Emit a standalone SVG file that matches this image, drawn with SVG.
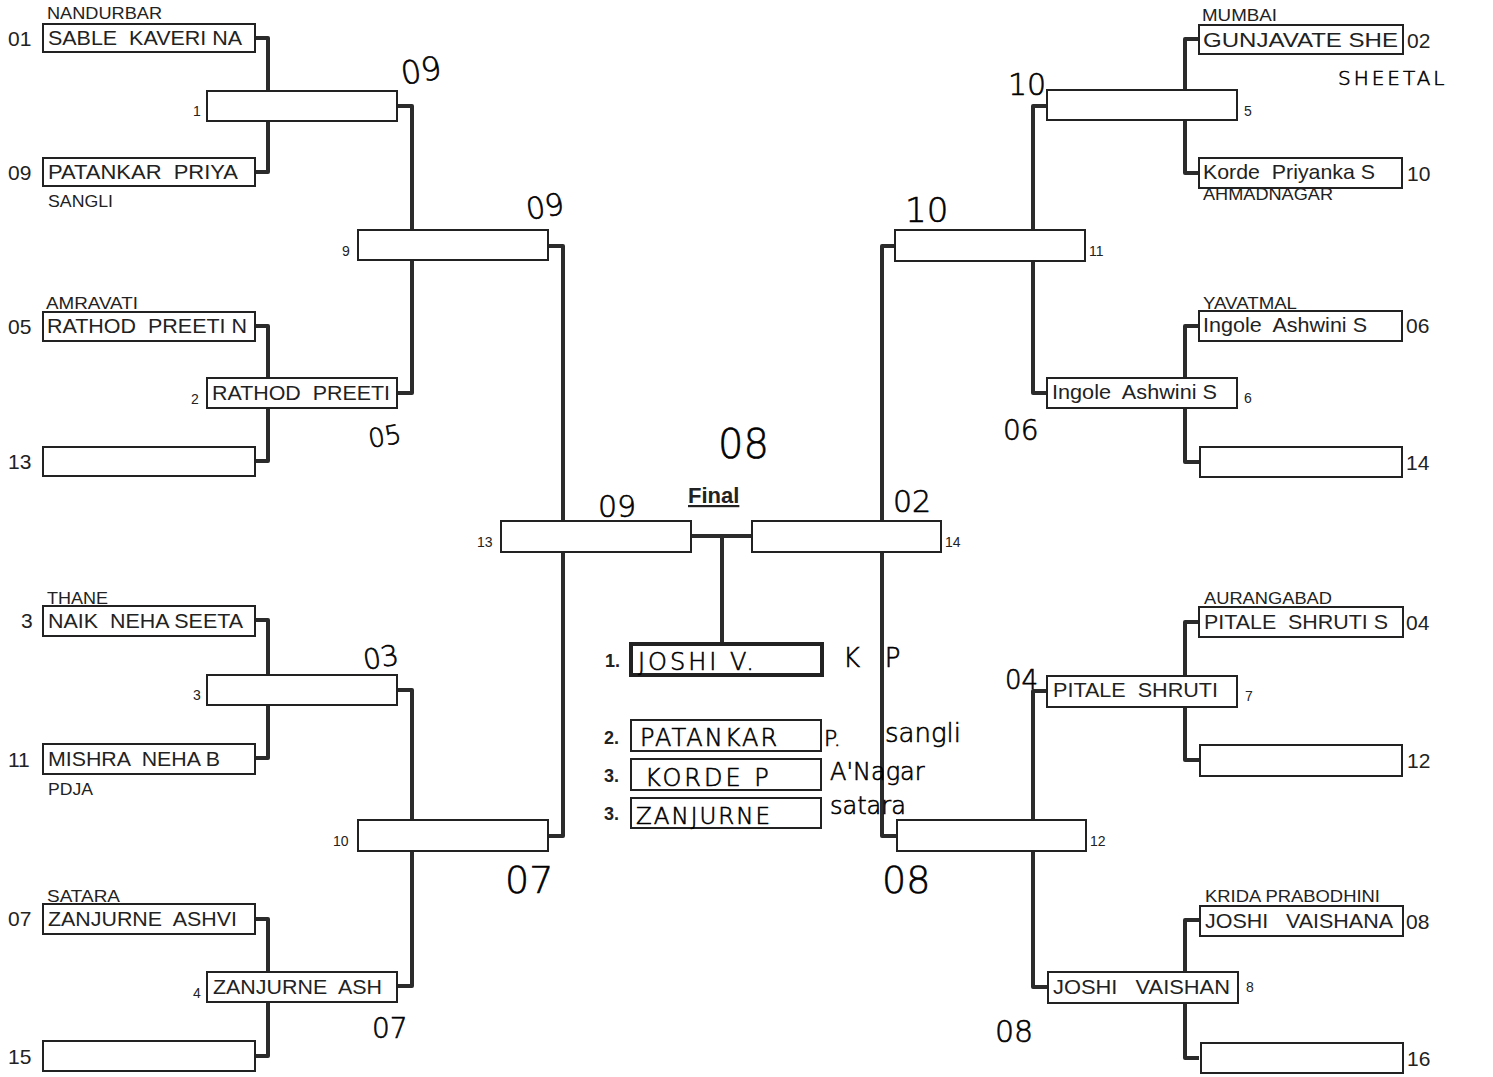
<svg xmlns="http://www.w3.org/2000/svg" width="1493" height="1077" viewBox="0 0 1493 1077">
<style>
.bg{fill:#fff}
.box{fill:#fff;stroke:#222;stroke-width:2}
.win{fill:#fff;stroke:#222;stroke-width:4}
.con{fill:none;stroke:#2b2b2b;stroke-width:4;stroke-linejoin:round}
.nm{font-family:"Liberation Sans",Arial,sans-serif;font-size:21px;fill:#222;white-space:pre}
.rg{font-family:"Liberation Sans",Arial,sans-serif;font-size:17px;fill:#222}
.sd{font-family:"Liberation Sans",Arial,sans-serif;font-size:21px;fill:#222}
.mn{font-family:"Liberation Sans",Arial,sans-serif;font-size:14px;fill:#222}
.fin{font-family:"Liberation Sans",Arial,sans-serif;font-size:22px;font-weight:bold;fill:#222;text-decoration:underline}
.pl{font-family:"Liberation Sans",Arial,sans-serif;font-size:18px;font-weight:bold;fill:#222}
.hw{font-family:"DejaVu Sans",sans-serif;font-weight:200;fill:#000;stroke:#000;stroke-width:0.6;white-space:pre}
</style>
<rect class="bg" x="0" y="0" width="1493" height="1077"/>
<g id="connectors">
<path class="con" d="M255,38 H268 V172 H255"/>
<path class="con" d="M255,326 H268 V461 H255"/>
<path class="con" d="M255,620 H268 V758 H255"/>
<path class="con" d="M255,919 H268 V1056 H255"/>
<path class="con" d="M397,106 H412 V393 H397"/>
<path class="con" d="M397,690 H412 V986 H397"/>
<path class="con" d="M548,246 H563 V836 H548"/>
<path class="con" d="M691,536 H752"/>
<path class="con" d="M722,536 V643"/>
<path class="con" d="M1199,39 H1185 V173 H1199"/>
<path class="con" d="M1199,326 H1185 V462 H1199"/>
<path class="con" d="M1199,622 H1185 V760 H1199"/>
<path class="con" d="M1199,920 H1185 V1058 H1199"/>
<path class="con" d="M1047,106 H1033 V393 H1047"/>
<path class="con" d="M1047,691 H1033 V987 H1047"/>
<path class="con" d="M895,246 H882 V836 H897"/>
</g>
<!-- left first round -->
<g id="s01"><text class="rg" x="47" y="19" textLength="115" lengthAdjust="spacingAndGlyphs">NANDURBAR</text><rect class="box" x="43" y="24" width="212" height="28"/><text class="sd" x="8" y="46">01</text><text class="nm" x="48" y="45" textLength="194" lengthAdjust="spacingAndGlyphs">SABLE  KAVERI NA</text></g>
<g id="s09"><rect class="box" x="43" y="158" width="212" height="28"/><text class="sd" x="8" y="180">09</text><text class="nm" x="48" y="179" textLength="190" lengthAdjust="spacingAndGlyphs">PATANKAR  PRIYA</text><text class="rg" x="48" y="207" textLength="65" lengthAdjust="spacingAndGlyphs">SANGLI</text></g>
<g id="s05"><text class="rg" x="46" y="309" textLength="92" lengthAdjust="spacingAndGlyphs">AMRAVATI</text><rect class="box" x="43" y="312" width="212" height="29"/><text class="sd" x="8" y="334">05</text><text class="nm" x="47" y="333" textLength="200" lengthAdjust="spacingAndGlyphs">RATHOD  PREETI N</text></g>
<g id="s13"><rect class="box" x="43" y="447" width="212" height="29"/><text class="sd" x="8" y="469">13</text></g>
<g id="s03"><text class="rg" x="47" y="604" textLength="61" lengthAdjust="spacingAndGlyphs">THANE</text><rect class="box" x="43" y="606" width="212" height="30"/><text class="sd" x="21" y="628" font-size="16">3</text><text class="nm" x="48" y="628" textLength="195" lengthAdjust="spacingAndGlyphs">NAIK  NEHA SEETA</text></g>
<g id="s11"><rect class="box" x="43" y="744" width="212" height="30"/><text class="sd" x="8" y="767">11</text><text class="nm" x="48" y="766" textLength="172" lengthAdjust="spacingAndGlyphs">MISHRA  NEHA B</text><text class="rg" x="48" y="795" textLength="45" lengthAdjust="spacingAndGlyphs">PDJA</text></g>
<g id="s07"><text class="rg" x="47" y="902" textLength="73" lengthAdjust="spacingAndGlyphs">SATARA</text><rect class="box" x="43" y="904" width="212" height="30"/><text class="sd" x="8" y="926">07</text><text class="nm" x="48" y="926" textLength="189" lengthAdjust="spacingAndGlyphs">ZANJURNE  ASHVI</text></g>
<g id="s15"><rect class="box" x="43" y="1041" width="212" height="30"/><text class="sd" x="8" y="1064">15</text></g>
<!-- left second round -->
<g id="m1"><rect class="box" x="207" y="91" width="190" height="30"/><text class="mn" x="193" y="116">1</text></g>
<g id="m2"><rect class="box" x="207" y="378" width="190" height="30"/><text class="mn" x="191" y="404">2</text><text class="nm" x="212" y="400" textLength="178" lengthAdjust="spacingAndGlyphs">RATHOD  PREETI</text></g>
<g id="m3"><rect class="box" x="207" y="675" width="190" height="30"/><text class="mn" x="193" y="700" fill="#555">3</text></g>
<g id="m4"><rect class="box" x="207" y="972" width="190" height="30"/><text class="mn" x="193" y="998">4</text><text class="nm" x="213" y="994" textLength="169" lengthAdjust="spacingAndGlyphs">ZANJURNE  ASH</text></g>
<!-- left third round -->
<g id="q9"><rect class="box" x="358" y="230" width="190" height="30"/><text class="mn" x="342" y="256">9</text></g>
<g id="q10"><rect class="box" x="358" y="820" width="190" height="31"/><text class="mn" x="333" y="846">10</text></g>
<!-- semi / final -->
<g id="f13"><rect class="box" x="501" y="521" width="190" height="31"/><text class="mn" x="477" y="547">13</text></g>
<g id="f14"><rect class="box" x="752" y="521" width="189" height="31"/><text class="mn" x="945" y="547">14</text></g>
<g id="final"><text class="fin" x="688" y="503">Final</text></g>
<!-- right first round -->
<g id="s02"><text class="rg" x="1202" y="21" textLength="75" lengthAdjust="spacingAndGlyphs">MUMBAI</text><rect class="box" x="1199" y="25" width="204" height="29"/><text class="sd" x="1407" y="48">02</text><text class="nm" x="1203" y="47" textLength="195" lengthAdjust="spacingAndGlyphs">GUNJAVATE SHE</text></g>
<g id="s10"><text class="rg" x="1203" y="200" textLength="130" lengthAdjust="spacingAndGlyphs">AHMADNAGAR</text><rect class="box" x="1199" y="158" width="203" height="30"/><text class="sd" x="1407" y="181">10</text><text class="nm" x="1203" y="179" textLength="172" lengthAdjust="spacingAndGlyphs">Korde  Priyanka S</text></g>
<g id="s06"><text class="rg" x="1203" y="309" textLength="94" lengthAdjust="spacingAndGlyphs">YAVATMAL</text><rect class="box" x="1199" y="311" width="203" height="30"/><text class="sd" x="1406" y="333">06</text><text class="nm" x="1203" y="332" textLength="164" lengthAdjust="spacingAndGlyphs">Ingole  Ashwini S</text></g>
<g id="s14"><rect class="box" x="1200" y="447" width="202" height="30"/><text class="sd" x="1406" y="470">14</text></g>
<g id="s04"><text class="rg" x="1204" y="604" textLength="128" lengthAdjust="spacingAndGlyphs">AURANGABAD</text><rect class="box" x="1199" y="607" width="204" height="30"/><text class="sd" x="1406" y="630">04</text><text class="nm" x="1204" y="629" textLength="184" lengthAdjust="spacingAndGlyphs">PITALE  SHRUTI S</text></g>
<g id="s12"><rect class="box" x="1200" y="745" width="202" height="31"/><text class="sd" x="1407" y="768">12</text></g>
<g id="s08"><text class="rg" x="1205" y="902" textLength="175" lengthAdjust="spacingAndGlyphs">KRIDA PRABODHINI</text><rect class="box" x="1200" y="906" width="203" height="30"/><text class="sd" x="1406" y="929">08</text><text class="nm" x="1205" y="928" textLength="188" lengthAdjust="spacingAndGlyphs">JOSHI   VAISHANA</text></g>
<g id="s16"><rect class="box" x="1201" y="1043" width="202" height="30"/><text class="sd" x="1407" y="1066">16</text></g>
<!-- right second round -->
<g id="m5"><rect class="box" x="1047" y="90" width="190" height="30"/><text class="mn" x="1244" y="116">5</text></g>
<g id="m6"><rect class="box" x="1047" y="378" width="190" height="30"/><text class="mn" x="1244" y="403">6</text><text class="nm" x="1052" y="399" textLength="165" lengthAdjust="spacingAndGlyphs">Ingole  Ashwini S</text></g>
<g id="m7"><rect class="box" x="1047" y="676" width="190" height="31"/><text class="mn" x="1245" y="701">7</text><text class="nm" x="1053" y="697" textLength="165" lengthAdjust="spacingAndGlyphs">PITALE  SHRUTI</text></g>
<g id="m8"><rect class="box" x="1048" y="972" width="190" height="31"/><text class="mn" x="1246" y="992">8</text><text class="nm" x="1053" y="994" textLength="177" lengthAdjust="spacingAndGlyphs">JOSHI   VAISHAN</text></g>
<!-- right third round -->
<g id="q11"><rect class="box" x="895" y="230" width="190" height="31"/><text class="mn" x="1089" y="256">11</text></g>
<g id="q12"><rect class="box" x="897" y="820" width="189" height="31"/><text class="mn" x="1090" y="846">12</text></g>
<!-- placings -->
<g id="p1"><rect class="win" x="631" y="644" width="191" height="31"/><text class="pl" x="605" y="667">1.</text><text class="hw" x="638" y="670" font-size="24" letter-spacing="3">JOSHI V.</text><text class="hw" x="843" y="667" font-size="26">K   P</text></g>
<g id="p2"><rect class="box" x="631" y="720" width="190" height="31"/><text class="pl" x="604" y="744">2.</text><text class="hw" x="640" y="746" font-size="24" letter-spacing="2">PATANKAR</text><text class="hw" x="824" y="746" font-size="22">P.</text><text class="hw" x="885" y="742" font-size="26">sangli</text></g>
<g id="p3"><rect class="box" x="631" y="759" width="190" height="31"/><text class="pl" x="604" y="782">3.</text><text class="hw" x="645" y="786" font-size="24" letter-spacing="3">KORDE P</text><text class="hw" x="830" y="780" font-size="24">A'Nagar</text></g>
<g id="p4"><rect class="box" x="631" y="798" width="190" height="30"/><text class="pl" x="604" y="820">3.</text><text class="hw" x="636" y="824" font-size="23" letter-spacing="2">ZANJURNE</text><text class="hw" x="830" y="814" font-size="24">satara</text></g>
<!-- handwritten scores -->
<g id="notes">
<text class="hw" x="403" y="85" font-size="32" transform="rotate(-10 403 85)">09</text>
<text class="hw" x="528" y="220" font-size="30" transform="rotate(-10 528 220)">09</text>
<text class="hw" x="370" y="448" font-size="26" transform="rotate(-10 370 448)">05</text>
<text class="hw" x="718" y="458" font-size="40">08</text>
<text class="hw" x="598" y="517" font-size="30">09</text>
<text class="hw" x="893" y="512" font-size="30">02</text>
<text class="hw" x="365" y="670" font-size="28" transform="rotate(-10 365 670)">03</text>
<text class="hw" x="505" y="893" font-size="38">07</text>
<text class="hw" x="372" y="1038" font-size="28">07</text>
<text class="hw" x="1008" y="95" font-size="30">10</text>
<text class="hw" x="905" y="222" font-size="34">10</text>
<text class="hw" x="1003" y="440" font-size="28">06</text>
<text class="hw" x="1005" y="689" font-size="26">04</text>
<text class="hw" x="882" y="893" font-size="38">08</text>
<text class="hw" x="995" y="1042" font-size="30">08</text>
<text class="hw" x="1338" y="85" font-size="20" letter-spacing="3">SHEETAL</text>
</g>
</svg>
